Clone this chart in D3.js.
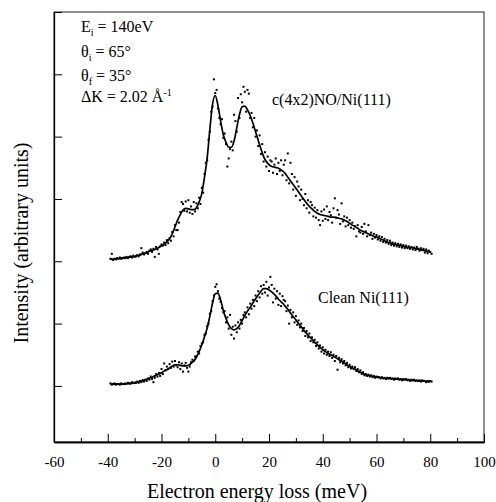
<!DOCTYPE html>
<html>
<head>
<meta charset="utf-8">
<script src="https://cdn.jsdelivr.net/npm/d3@7"></script>
<style>
    body { margin: 0; background: #fff; }
    text { font-family: "Liberation Serif", "Times New Roman", serif; fill: #000; }
</style>
</head>
<body>
<div id="eels-chart"></div>
<script>
// energy grids (meV): fitted line every 1 meV, measured points every 0.5 meV
var lineEnergy = d3.range(-39, 81, 1);
var dotEnergy = d3.range(-39, 80.75, 0.5);

// c(4x2)NO/Ni(111) - smooth fit
var noLine = [
    2.03, 2.035, 2.04, 2.045, 2.05, 2.055, 2.06, 2.065, 2.07, 2.08,
    2.09, 2.10, 2.12, 2.13, 2.15, 2.17, 2.18, 2.20, 2.22, 2.25,
    2.28, 2.31, 2.36, 2.44, 2.55, 2.66, 2.75, 2.82, 2.85, 2.84,
    2.83, 2.83, 2.86, 2.95, 3.09, 3.35, 3.66, 4.12, 4.52, 4.66,
    4.50, 4.25, 4.03, 3.91, 3.83, 3.83, 3.93, 4.14, 4.35, 4.48,
    4.49, 4.43, 4.34, 4.22, 4.08, 3.94, 3.80, 3.68, 3.60, 3.55,
    3.52, 3.51, 3.50, 3.48, 3.45, 3.41, 3.35, 3.29, 3.23, 3.17,
    3.11, 3.05, 2.99, 2.93, 2.88, 2.84, 2.80, 2.77, 2.75, 2.74,
    2.73, 2.72, 2.71, 2.71, 2.70, 2.69, 2.68, 2.66, 2.64, 2.61,
    2.58, 2.56, 2.53, 2.50, 2.48, 2.46, 2.44, 2.42, 2.40, 2.39,
    2.37, 2.35, 2.33, 2.31, 2.30, 2.28, 2.27, 2.26, 2.25, 2.24,
    2.23, 2.22, 2.22, 2.21, 2.20, 2.19, 2.18, 2.17, 2.16, 2.15
];
// c(4x2)NO/Ni(111) - measured points
var noDots = [
    2.04, 2.12, 2.02, 2.04, 2.03, 2.05, 2.04, 2.06, 2.04, 2.05,
    2.06, 2.05, 2.07, 2.05, 2.07, 2.08, 2.06, 2.09, 2.07, 2.08,
    2.10, 2.08, 2.11, 2.21, 2.14, 2.11, 2.13, 2.15, 2.12, 2.17,
    2.19, 2.15, 2.20, 2.07, 2.23, 2.19, 2.12, 2.24, 2.27, 2.25,
    2.30, 2.26, 2.34, 2.29, 2.37, 2.33, 2.47, 2.40, 2.58, 2.50,
    2.50, 2.62, 2.79, 2.95, 2.92, 2.81, 2.96, 2.80, 2.98, 2.78,
    2.88, 2.76, 2.95, 2.80, 2.93, 2.85, 3.02, 2.92, 3.18, 3.10,
    3.40, 3.58, 3.62, 3.95, 4.08, 4.40, 4.48, 4.92, 4.70, 4.75,
    4.45, 4.30, 4.20, 4.28, 3.98, 4.05, 3.88, 3.52, 3.65, 3.80,
    3.92, 3.78, 4.35, 4.25, 4.08, 4.62, 4.30, 4.68, 4.55, 4.80,
    4.72, 4.40, 4.75, 4.69, 4.30, 4.38, 4.15, 4.30, 4.00, 4.10,
    3.85, 4.02, 3.72, 3.88, 3.60, 3.75, 3.52, 3.68, 3.45, 3.62,
    3.60, 3.42, 3.55, 3.65, 3.40, 3.58, 3.45, 3.62, 3.38, 3.55,
    3.62, 3.30, 3.73, 3.25, 3.58, 3.40, 3.15, 3.35, 3.05, 3.28,
    3.20, 2.98, 3.15, 3.00, 2.90, 3.08, 2.85, 2.98, 2.78, 2.95,
    2.90, 2.72, 2.86, 2.70, 2.82, 2.66, 2.58, 2.80, 2.65, 2.83,
    2.68, 2.88, 2.66, 2.79, 2.74, 2.62, 2.85, 3.01, 2.70, 2.82,
    2.75, 2.60, 2.93, 2.64, 2.72, 2.56, 2.70, 2.58, 2.66, 2.54,
    2.62, 2.52, 2.56, 2.40, 2.58, 2.48, 2.46, 2.55, 2.44, 2.60,
    2.48, 2.40, 2.58, 2.42, 2.46, 2.36, 2.44, 2.38, 2.42, 2.35,
    2.40, 2.33, 2.39, 2.31, 2.36, 2.30, 2.34, 2.28, 2.33, 2.26,
    2.30, 2.25, 2.29, 2.24, 2.28, 2.23, 2.27, 2.22, 2.26, 2.21,
    2.25, 2.21, 2.24, 2.20, 2.23, 2.19, 2.22, 2.18, 2.23, 2.20,
    2.17, 2.21, 2.18, 2.20, 2.14, 2.19, 2.13, 2.17, 2.15, 2.12
];

// Clean Ni(111) - smooth fit
var cleanLine = [
    0.03, 0.03, 0.03, 0.03, 0.03, 0.03, 0.035, 0.04, 0.045, 0.05,
    0.06, 0.07, 0.085, 0.10, 0.115, 0.13, 0.15, 0.17, 0.19, 0.21,
    0.24, 0.26, 0.29, 0.32, 0.34, 0.34, 0.33, 0.32, 0.32, 0.33,
    0.36, 0.40, 0.46, 0.55, 0.66, 0.79, 0.93, 1.12, 1.33, 1.48,
    1.49, 1.38, 1.21, 1.08, 0.98, 0.92, 0.90, 0.92, 0.97, 1.05,
    1.13, 1.20, 1.26, 1.33, 1.40, 1.46, 1.52, 1.56, 1.56, 1.54,
    1.51, 1.47, 1.42, 1.37, 1.33, 1.28, 1.23, 1.17, 1.11, 1.06,
    1.00, 0.95, 0.89, 0.84, 0.79, 0.75, 0.70, 0.66, 0.62, 0.58,
    0.55, 0.52, 0.50, 0.47, 0.45, 0.42, 0.40, 0.37, 0.34, 0.31,
    0.29, 0.27, 0.24, 0.22, 0.20, 0.18, 0.17, 0.16, 0.15, 0.14,
    0.135, 0.13, 0.125, 0.12, 0.12, 0.115, 0.11, 0.11, 0.105, 0.10,
    0.10, 0.095, 0.09, 0.09, 0.085, 0.08, 0.08, 0.075, 0.07, 0.07
];
// Clean Ni(111) - measured points
var cleanDots = [
    0.04, 0.02, 0.03, 0.04, 0.02, 0.03, 0.03, 0.02, 0.04, 0.03,
    0.03, 0.04, 0.035, 0.05, 0.04, 0.035, 0.06, 0.045, 0.055, 0.05,
    0.07, 0.05, 0.08, 0.06, 0.09, 0.07, 0.10, 0.08, 0.12, 0.10,
    0.15, 0.11, 0.06, 0.13, 0.19, 0.15, 0.21, 0.16, 0.27, 0.19,
    0.36, 0.25, 0.31, 0.27, 0.35, 0.29, 0.39, 0.31, 0.40, 0.33,
    0.30, 0.38, 0.27, 0.36, 0.23, 0.33, 0.37, 0.29, 0.23, 0.31,
    0.38, 0.42, 0.40, 0.47, 0.48, 0.55, 0.52, 0.64, 0.68, 0.70,
    0.82, 0.84, 0.96, 1.00, 1.16, 1.20, 1.36, 1.45, 1.59, 1.63,
    1.52, 1.40, 1.35, 1.25, 1.18, 1.20, 1.02, 1.10, 0.92, 1.14,
    0.82, 0.95, 0.76, 0.97, 0.86, 1.02, 0.92, 1.06, 1.00, 1.14,
    1.18, 1.10, 1.26, 1.15, 1.32, 1.24, 1.38, 1.28, 1.45, 1.36,
    1.52, 1.42, 1.60, 1.48, 1.62, 1.50, 1.67, 1.45, 1.58, 1.75,
    1.62, 1.34, 1.56, 1.40, 1.52, 1.30, 1.48, 1.28, 1.44, 1.38,
    1.36, 1.20, 1.29, 1.00, 1.22, 1.10, 1.18, 1.02, 1.12, 0.98,
    1.05, 0.94, 1.00, 0.88, 0.93, 0.80, 0.88, 0.78, 0.84, 0.72,
    0.78, 0.70, 0.74, 0.64, 0.70, 0.60, 0.65, 0.55, 0.62, 0.52,
    0.58, 0.50, 0.55, 0.48, 0.54, 0.45, 0.50, 0.40, 0.48, 0.26,
    0.45, 0.38, 0.43, 0.36, 0.40, 0.33, 0.37, 0.30, 0.34, 0.28,
    0.31, 0.27, 0.30, 0.24, 0.27, 0.22, 0.25, 0.19, 0.22, 0.17,
    0.19, 0.16, 0.18, 0.15, 0.17, 0.14, 0.16, 0.13, 0.15, 0.14,
    0.14, 0.12, 0.14, 0.12, 0.13, 0.11, 0.13, 0.12, 0.13, 0.11,
    0.12, 0.10, 0.12, 0.11, 0.12, 0.10, 0.11, 0.09, 0.11, 0.10,
    0.11, 0.09, 0.10, 0.08, 0.10, 0.09, 0.10, 0.08, 0.09, 0.08,
    0.09, 0.07, 0.09, 0.08, 0.08, 0.06, 0.08, 0.07, 0.08, 0.07
];

var xMajorTicks = [-60, -40, -20, 0, 20, 40, 60, 80, 100];
var xMinorTicks = [-50, -30, -10, 10, 30, 50, 70, 90];
var yTicks = [0, 1, 2, 3, 4, 5, 6];

function EelsChart() {
    var self = this;
    self.init();
}

EelsChart.prototype.init = function () {
    var self = this;
    d3.select("#eels-chart").select("svg").remove();
    self.svg = d3.select("#eels-chart").append("svg")
        .attr("width", 496)
        .attr("height", 502);
    self.xscale = d3.scaleLinear().domain([-60, 100]).range([54, 484]);
    self.yscale = d3.scaleLinear().domain([-0.9, 6]).range([442, 12]);
}

EelsChart.prototype.drawSeries = function (fit, dots) {
    var self = this;
    var x = self.xscale, y = self.yscale;

    var pts = dots.map(function (v, i) { return [dotEnergy[i], v]; });
    self.svg.append("g").selectAll("rect").data(pts).enter()
        .append("rect")
        .attr("x", function (d) { return x(d[0]) - 1; })
        .attr("y", function (d) { return y(d[1]) - 1; })
        .attr("width", 2)
        .attr("height", 2)
        .attr("fill", "#000");

    var line = d3.line()
        .x(function (d, i) { return x(lineEnergy[i]); })
        .y(function (d) { return y(d); })
        .curve(d3.curveMonotoneX);
    self.svg.append("path")
        .datum(fit)
        .attr("d", line)
        .attr("fill", "none")
        .attr("stroke", "#000")
        .attr("stroke-width", 1.7);
}

EelsChart.prototype.update = function () {
    var self = this;
    var svg = self.svg, x = self.xscale, y = self.yscale;

    // frame
    svg.append("rect")
        .attr("x", 54).attr("y", 12)
        .attr("width", 430).attr("height", 430)
        .attr("fill", "none").attr("stroke", "#222").attr("stroke-width", 1);

    //x axis, ticks pointing inward
    var xAxis = d3.axisBottom(x).tickValues(xMajorTicks)
        .tickSizeInner(-8).tickSizeOuter(0).tickPadding(14)
        .tickFormat(function (d) { return String(d); });
    var gx = svg.append("g").attr("transform", "translate(0,442)").call(xAxis);
    gx.selectAll("text").style("font-size", "15px")
        .style("font-family", "'Liberation Serif', serif");
    var xMinor = d3.axisBottom(x).tickValues(xMinorTicks)
        .tickSizeInner(-4).tickSizeOuter(0).tickFormat("");
    svg.append("g").attr("transform", "translate(0,442)").call(xMinor);

    var yAxis = d3.axisLeft(y).tickValues(yTicks)
        .tickSizeInner(-8).tickSizeOuter(0).tickFormat("");
    svg.append("g").attr("transform", "translate(54,0)").call(yAxis);

    svg.selectAll(".domain").attr("stroke-width", 1.3);

    self.drawSeries(noLine, noDots);
    self.drawSeries(cleanLine, cleanDots);

    // axis titles
    svg.append("text")
        .attr("x", 257).attr("y", 498)
        .attr("text-anchor", "middle")
        .style("font-size", "20px")
        .text("Electron energy loss (meV)");
    svg.append("text")
        .attr("transform", "translate(28,243) rotate(-90)")
        .attr("text-anchor", "middle")
        .style("font-size", "20px")
        .text("Intensity (arbitrary units)");

    // experimental conditions
    var info = svg.append("g").style("font-size", "16px");
    var t1 = info.append("text").attr("x", 81).attr("y", 32);
    t1.append("tspan").text("E");
    t1.append("tspan").attr("dy", 4).style("font-size", "10px").text("i");
    t1.append("tspan").attr("dy", -4).text(" = 140eV");

    var t2 = info.append("text").attr("x", 81).attr("y", 57);
    t2.append("tspan").text("\u03b8");
    t2.append("tspan").attr("dy", 4).style("font-size", "10px").text("i");
    t2.append("tspan").attr("dy", -4).text(" = 65\u00b0");

    var t3 = info.append("text").attr("x", 81).attr("y", 81);
    t3.append("tspan").text("\u03b8");
    t3.append("tspan").attr("dy", 4).style("font-size", "10px").text("f");
    t3.append("tspan").attr("dy", -4).text(" = 35\u00b0");

    var t4 = info.append("text").attr("x", 81).attr("y", 102);
    t4.append("tspan").text("\u0394K = 2.02 \u00c5");
    t4.append("tspan").attr("dy", -6).style("font-size", "10px").text("-1");

    // curve labels
    svg.append("text").attr("x", 272).attr("y", 105)
        .style("font-size", "16px").text("c(4x2)NO/Ni(111)");
    svg.append("text").attr("x", 318).attr("y", 303)
        .style("font-size", "16px").text("Clean Ni(111)");
}

var chart = new EelsChart();
chart.update();
</script>
</body>
</html>
